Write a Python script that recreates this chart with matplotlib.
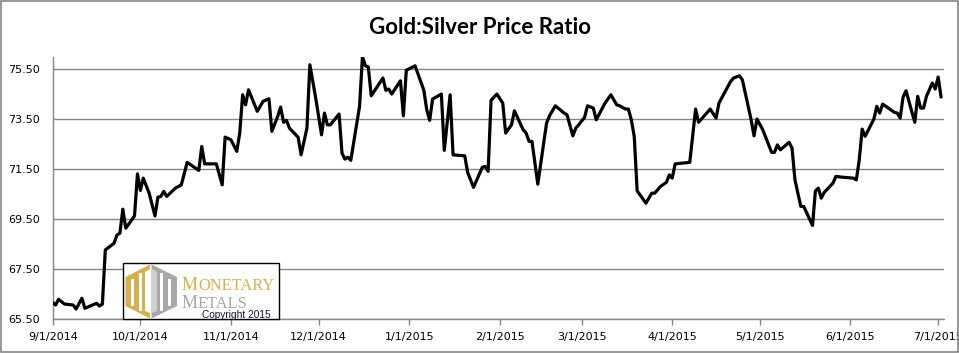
import matplotlib
matplotlib.use("Agg")
import matplotlib.pyplot as plt
import matplotlib.dates as mdates
from matplotlib.ticker import FuncFormatter
from matplotlib.patches import Polygon, Rectangle
import pandas as pd

# ---------------- data ----------------
dates = [
    "2014-09-01", "2014-09-02", "2014-09-03", "2014-09-05", "2014-09-08", "2014-09-09",
    "2014-09-11", "2014-09-12", "2014-09-16", "2014-09-17", "2014-09-18", "2014-09-19",
    "2014-09-22", "2014-09-23", "2014-09-24", "2014-09-25", "2014-09-26", "2014-09-29",
    "2014-09-30",
    "2014-10-01", "2014-10-02", "2014-10-04", "2014-10-06", "2014-10-07", "2014-10-08",
    "2014-10-09", "2014-10-10", "2014-10-13", "2014-10-15", "2014-10-16", "2014-10-17",
    "2014-10-21", "2014-10-22", "2014-10-23", "2014-10-27", "2014-10-29", "2014-10-30",
    "2014-11-01", "2014-11-03", "2014-11-04", "2014-11-05", "2014-11-06", "2014-11-07",
    "2014-11-10", "2014-11-12", "2014-11-14", "2014-11-15", "2014-11-17", "2014-11-18",
    "2014-11-19", "2014-11-20", "2014-11-21", "2014-11-24", "2014-11-25", "2014-11-27",
    "2014-11-28", "2014-11-30",
    "2014-12-02", "2014-12-03", "2014-12-04", "2014-12-05", "2014-12-08", "2014-12-09",
    "2014-12-10", "2014-12-11", "2014-12-12", "2014-12-15", "2014-12-16", "2014-12-17",
    "2014-12-18", "2014-12-19", "2014-12-23", "2014-12-24", "2014-12-25", "2014-12-26",
    "2014-12-29", "2014-12-30", "2014-12-31",
    "2015-01-03", "2015-01-06", "2015-01-07", "2015-01-08", "2015-01-09", "2015-01-12",
    "2015-01-13", "2015-01-15", "2015-01-16", "2015-01-20", "2015-01-21", "2015-01-23",
    "2015-01-26", "2015-01-27", "2015-01-28", "2015-01-29", "2015-01-31",
    "2015-02-02", "2015-02-03", "2015-02-05", "2015-02-06", "2015-02-09", "2015-02-10",
    "2015-02-11", "2015-02-12", "2015-02-14", "2015-02-17", "2015-02-18", "2015-02-20",
    "2015-02-23", "2015-02-24", "2015-02-26", "2015-02-27", "2015-02-28",
    "2015-03-02", "2015-03-03", "2015-03-05", "2015-03-06", "2015-03-09", "2015-03-11",
    "2015-03-13", "2015-03-14", "2015-03-16", "2015-03-17", "2015-03-18", "2015-03-19",
    "2015-03-20", "2015-03-23", "2015-03-25", "2015-03-26", "2015-03-28", "2015-03-30",
    "2015-03-31",
    "2015-04-01", "2015-04-02", "2015-04-07", "2015-04-09", "2015-04-10", "2015-04-14",
    "2015-04-16", "2015-04-17", "2015-04-21", "2015-04-22", "2015-04-24", "2015-04-25",
    "2015-04-28", "2015-04-29", "2015-04-30",
    "2015-05-02", "2015-05-05", "2015-05-06", "2015-05-07", "2015-05-08", "2015-05-11",
    "2015-05-12", "2015-05-13", "2015-05-15", "2015-05-16", "2015-05-19", "2015-05-20",
    "2015-05-21", "2015-05-22", "2015-05-23", "2015-05-26", "2015-05-27", "2015-05-29",
    "2015-06-02", "2015-06-03", "2015-06-04", "2015-06-05", "2015-06-06", "2015-06-09",
    "2015-06-10", "2015-06-11", "2015-06-12", "2015-06-16", "2015-06-17", "2015-06-18",
    "2015-06-19", "2015-06-20", "2015-06-23", "2015-06-24", "2015-06-25", "2015-06-26",
    "2015-06-27", "2015-06-29", "2015-06-30",
    "2015-07-01", "2015-07-02",
]

ratio = [
    66.17, 66.07, 66.30, 66.11, 66.07, 65.91,
    66.34, 65.94, 66.14, 66.03, 66.11, 68.27,
    68.54, 68.87, 68.94, 69.90, 69.14, 69.63,
    71.31,
    70.65, 71.14, 70.54, 69.63, 70.38, 70.41,
    70.61, 70.41, 70.74, 70.87, 71.31, 71.77,
    71.45, 72.41, 71.71, 71.71, 70.87, 72.78,
    72.67, 72.21, 72.94, 74.47, 74.07, 74.67,
    73.81, 74.21, 74.31, 73.01, 73.61, 73.98,
    73.37, 73.45, 73.14, 72.77, 72.07, 73.14,
    75.67, 74.34,
    72.87, 73.74, 73.27, 73.27, 73.70, 72.14,
    71.90, 71.98, 71.85, 74.00, 76.00, 75.63,
    75.58, 74.43, 75.14, 74.65, 74.70, 74.50,
    75.03, 73.63, 75.45,
    75.63, 74.65, 73.87, 73.45, 74.30, 74.50,
    72.25, 74.47, 72.07, 72.03, 71.37, 70.77,
    71.57, 71.61, 71.41, 74.25, 74.50,
    74.14, 72.94, 73.27, 73.83, 73.07, 72.94,
    72.61, 72.61, 70.90, 73.34, 73.63, 74.03,
    73.74, 73.67, 72.83, 73.14, 73.27,
    73.57, 74.03, 73.94, 73.47, 74.14, 74.47,
    74.07, 74.03, 73.90, 73.90, 73.47, 72.81,
    70.63, 70.14, 70.54, 70.54, 70.81, 70.97,
    71.27,
    71.14, 71.71, 71.77, 73.90, 73.37, 73.90,
    73.54, 74.14, 75.01, 75.14, 75.23, 75.07,
    73.47, 72.83, 73.50,
    73.07, 72.17, 72.17, 72.47, 72.27, 72.57,
    72.34, 71.07, 70.01, 70.01, 69.25, 70.63,
    70.74, 70.34, 70.57, 70.94, 71.21, 71.18,
    71.14, 71.07, 71.87, 73.10, 72.81, 73.50,
    74.01, 73.74, 74.10, 73.77, 73.74, 73.54,
    74.38, 74.63, 73.37, 74.41, 73.94, 73.94,
    74.41, 74.94, 74.70,
    75.18, 74.38,
]

y_ticks = [65.5, 67.5, 69.5, 71.5, 73.5, 75.5]
y_range = [65.5, 76.0]
x_range = ["2014-09-01", "2015-07-03"]
title = "Gold:Silver Price Ratio"
logo_word1 = ("M", "ONETARY")
logo_word2 = ("M", "ETALS")
copyright_text = "Copyright 2015"

# ---------------- figure ----------------
W, H = 959, 353
fig = plt.figure(figsize=(W / 100, H / 100), dpi=100)
fig.patch.set_facecolor("white")

grid_gray = "#868686"
left, right, top, bottom = 52.7, 944.0, 56.5, 319.3
ax = fig.add_axes([left / W, 1 - bottom / H, (right - left) / W, (bottom - top) / H])

x = pd.to_datetime(dates)
ax.plot(x, ratio, color="black", lw=2.3, solid_joinstyle="round",
        solid_capstyle="round", zorder=3)

ax.set_ylim(*y_range)
ax.set_xlim(pd.Timestamp(x_range[0]), pd.Timestamp(x_range[1]))
ax.set_yticks(y_ticks)
ax.set_yticklabels([f"{v:.2f}" for v in y_ticks])

ax.xaxis.set_major_locator(mdates.MonthLocator())


def fmt_date(v, pos):
    d = mdates.num2date(v)
    return f"{d.month}/{d.day}/{d.year}"


ax.xaxis.set_major_formatter(FuncFormatter(fmt_date))

ax.grid(axis="y", color=grid_gray, lw=1.0, zorder=1)
ax.set_axisbelow(True)
ax.tick_params(axis="y", length=0, pad=9, labelsize=8, labelcolor="black")
ax.tick_params(axis="x", length=4, width=1, color=grid_gray, pad=5,
               labelsize=8, labelcolor="black")
for s in ["top", "right"]:
    ax.spines[s].set_visible(False)
for s in ["left", "bottom"]:
    ax.spines[s].set_color(grid_gray)
    ax.spines[s].set_linewidth(1.0)

fig.text(480 / W, 1 - 27 / H, title, ha="center", va="center",
         fontsize=16, fontweight="bold", family="Lato")

# ---------------- overlay (border + logo) in pixel coords ----------------
lax = fig.add_axes([0, 0, 1, 1])
lax.set_xlim(0, W)
lax.set_ylim(H, 0)
lax.axis("off")

lax.add_patch(Rectangle((0.5, 0.5), W - 1.5, H - 1.5, fill=False,
                        ec=grid_gray, lw=1.2))

gold = "#D6B04A"
gray = "#A8A8A8"
lax.add_patch(Rectangle((122.7, 263.3), 156.6, 56, fc="white", ec="black", lw=1.0, zorder=2))

lax.add_patch(Polygon([(150, 264.5), (125.5, 277), (125.5, 306), (150, 318.5)],
                      closed=True, fc=gold, ec="none", zorder=3))
lax.add_patch(Polygon([(151.5, 264.5), (177, 277), (177, 306), (151.5, 318.5)],
                      closed=True, fc=gray, ec="none", zorder=3))
for (bx, by, bw, bh) in [(131, 279, 3, 27), (139, 273, 3, 38),
                         (160, 273, 3, 38), (168, 279, 3, 27)]:
    lax.add_patch(Rectangle((bx, by), bw, bh, fc="white", ec="none", zorder=4))
lax.add_patch(Polygon([(145, 272), (150, 269), (150, 313), (145, 311)],
                      closed=True, fc="white", ec="none", zorder=4))
lax.add_patch(Polygon([(152, 269), (157, 272), (157, 311), (152, 313)],
                      closed=True, fc="#CFCFCF", ec="none", zorder=4))

t1 = lax.text(182, 290.5, logo_word1[0], fontsize=13, family="Liberation Serif",
              color=gold, va="baseline", ha="left", zorder=5)
lax.annotate(logo_word1[1], xy=(1, 0), xycoords=t1, fontsize=11.8,
             family="Liberation Serif", color=gold, va="bottom", ha="left", zorder=5)
t2 = lax.text(182, 307.5, logo_word2[0], fontsize=13, family="Liberation Serif",
              color=gray, va="baseline", ha="left", zorder=5)
lax.annotate(logo_word2[1], xy=(1, 0), xycoords=t2, fontsize=11.8,
             family="Liberation Serif", color=gray, va="bottom", ha="left", zorder=5)
lax.text(202, 317.5, copyright_text, fontsize=7.3, family="Liberation Sans",
         color="#10103A", va="baseline", ha="left", zorder=5)

fig.savefig("out.png", dpi=100)
